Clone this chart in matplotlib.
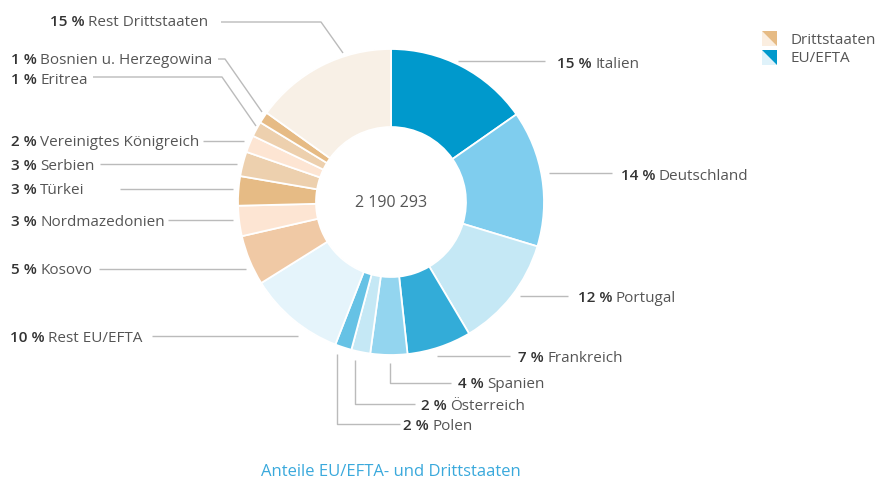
import matplotlib
matplotlib.use('Agg')
import matplotlib.pyplot as plt
from matplotlib.patches import Polygon

# shares in percent, clockwise from the top
names = ['Italien', 'Deutschland', 'Portugal', 'Frankreich', 'Spanien', 'Österreich', 'Polen',
         'Rest EU/EFTA', 'Kosovo', 'Nordmazedonien', 'Türkei', 'Serbien',
         'Vereinigtes Königreich', 'Eritrea', 'Bosnien u. Herzegowina', 'Rest Drittstaaten']
shares = [15.3, 14.4, 11.8, 6.8, 3.9, 2.0, 1.75, 10.2, 5.3, 3.2, 3.1, 2.6, 1.8, 1.6, 1.2, 15.1]
pct_labels = ['15 %', '14 %', '12 %', '7 %', '4 %', '2 %', '2 %', '10 %',
              '5 %', '3 %', '3 %', '3 %', '2 %', '1 %', '1 %', '15 %']
total_label = '2 190 293'
title = 'Anteile EU/EFTA- und Drittstaaten'
legend_names = ['Drittstaaten', 'EU/EFTA']

colors = ['#0099cc', '#7fcdee', '#c5e8f5', '#33acd8', '#93d5ef', '#c5e8f5', '#66c2e5',
          '#e5f4fb', '#f0c9a5', '#fde5d3', '#e6bb85', '#edd0ae', '#fde5d3', '#edd0ae',
          '#e6bb85', '#f8f0e6']

W, H = 877, 480
fig = plt.figure(figsize=(W / 100, H / 100), dpi=100)
ax = fig.add_axes([0, 0, 1, 1])

plt.rcParams['font.family'] = ['Open Sans', 'DejaVu Sans']

cx, cy, r = 391, H - 202, 153
ax.pie(shares, colors=colors, startangle=90, counterclock=False, center=(cx, cy), radius=r,
       wedgeprops=dict(width=r * 0.51, edgecolor='white', linewidth=1.3), frame=True)
ax.set_xlim(0, W)
ax.set_ylim(0, H)
ax.set_aspect('equal')
ax.axis('off')

ax.text(cx, cy - 1, total_label, ha='center', va='center', fontsize=11.5, color='#555555')

# label layout (pixel coords from top): text x, text y, leader line points
layout = [
    (557, 62, [(458, 61), (545, 61)]),
    (621, 174, [(549, 173), (612, 173)]),
    (578, 296, [(520, 296), (568, 296)]),
    (518, 357, [(437, 356), (510, 356)]),
    (458, 383, [(451, 383), (390, 383), (390, 363)]),
    (421, 404, [(415, 404), (355, 404), (355, 360)]),
    (403, 425, [(400, 424), (337, 424), (337, 354)]),
    (10, 337, [(152, 336), (298, 336)]),
    (11, 269, [(99, 269), (246, 269)]),
    (11, 220, [(168, 220), (233, 220)]),
    (11, 189, [(120, 189), (233, 189)]),
    (11, 164, [(100, 164), (237, 164)]),
    (11, 141, [(203, 141), (244, 141)]),
    (11, 78, [(93, 77), (222, 77), (256, 126)]),
    (11, 59, [(218, 59), (225, 59), (262, 112)]),
    (50, 21, [(221, 22), (321, 22), (343, 53)]),
]

for pct, name, (tx, ty, pts) in zip(pct_labels, names, layout):
    xs = [p[0] for p in pts]
    ys = [H - p[1] for p in pts]
    ax.plot(xs, ys, color='#bbbbbb', lw=1.0, solid_capstyle='butt')
    base = H - ty - 5.5
    t = ax.text(tx, base, pct, ha='left', va='baseline', fontsize=11, fontweight='semibold', color='#333333')
    ax.annotate(name, xy=(1, base), xycoords=(t, 'data'), xytext=(2.5, 0), textcoords='offset points',
                ha='left', va='baseline', fontsize=11, color='#555555')

# legend
legend_cols = [('#e6bb85', '#fbeee0'), ('#0099cc', '#dff2fa')]
for i, (lab, (dark, light)) in enumerate(zip(legend_names, legend_cols)):
    top = H - (31 + i * 19)
    x0, x1 = 762, 777
    bot = top - 15
    ax.add_patch(Polygon([(x0, top), (x0, bot), (x1, bot)], closed=True, color=light, lw=0))
    ax.add_patch(Polygon([(x0, top), (x1, top), (x1, bot)], closed=True, color=dark, lw=0))
    ax.text(790, top - 9, lab, ha='left', va='center', fontsize=11, color='#555555')

ax.text(cx, H - 472, title, ha='center', va='center', fontsize=12, color='#3aa9dc')

fig.savefig('out.png', dpi=100)
